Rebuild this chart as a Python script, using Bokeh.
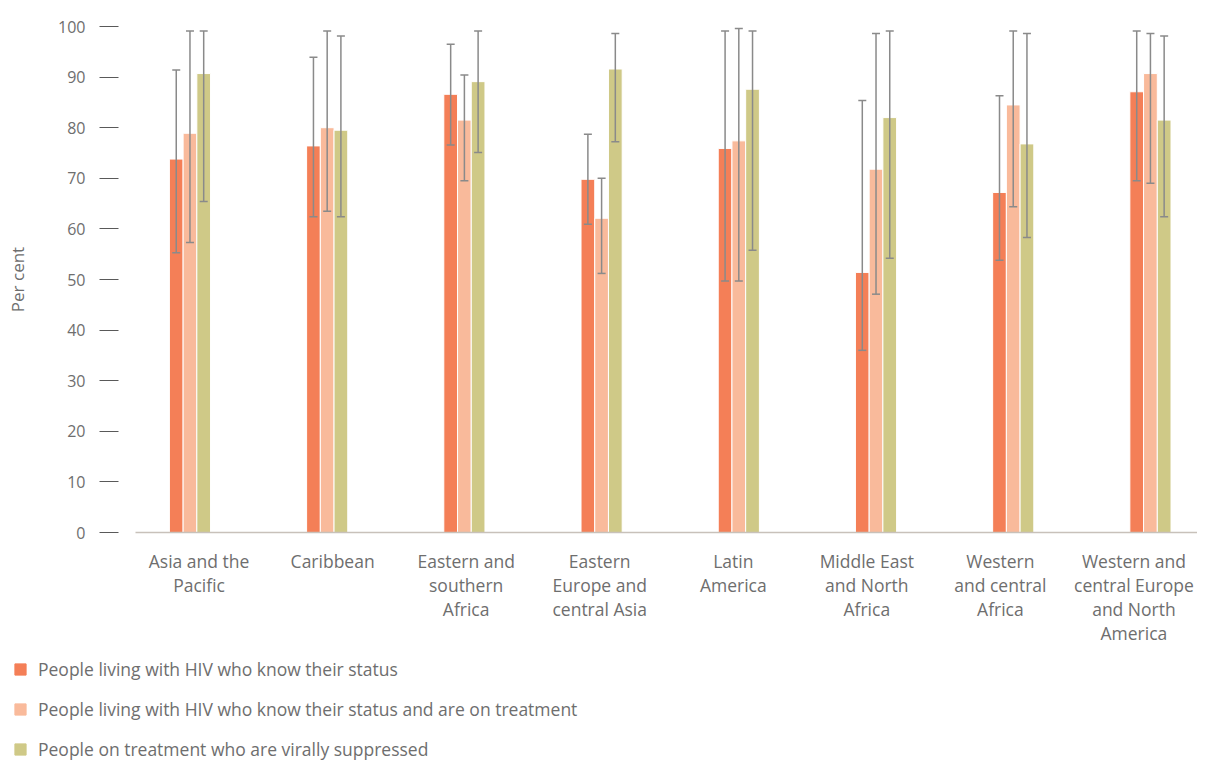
from bokeh.plotting import figure
from bokeh.layouts import column
from bokeh.models import (ColumnDataSource, FactorRange, CategoricalAxis, Whisker,
                          Legend, LegendItem, TeeHead, FixedTicker, Range1d)
from bokeh.transform import dodge
from bokeh.embed import file_html
from bokeh.resources import INLINE

regions = ["Asia and the\nPacific", "Caribbean", "Eastern and\nsouthern\nAfrica",
           "Eastern\nEurope and\ncentral Asia", "Latin\nAmerica",
           "Middle East\nand North\nAfrica", "Western\nand central\nAfrica",
           "Western and\ncentral Europe\nand North\nAmerica"]

series_names = ["People living with HIV who know their status",
                "People living with HIV who know their status and are on treatment",
                "People on treatment who are virally suppressed"]

know_status = [73.8, 76.4, 86.6, 69.8, 75.9, 51.4, 67.2, 87.1]
know_status_low = [55.3, 62.4, 76.6, 60.9, 49.7, 36.0, 53.8, 69.5]
know_status_high = [91.4, 93.9, 96.5, 78.7, 99.1, 85.4, 86.3, 99.1]

on_treatment = [78.9, 80.0, 81.5, 62.1, 77.4, 71.8, 84.5, 90.7]
on_treatment_low = [57.3, 63.5, 69.5, 51.2, 49.7, 47.1, 64.4, 69.0]
on_treatment_high = [99.1, 99.1, 90.4, 70.0, 99.6, 98.6, 99.1, 98.6]

suppressed = [90.7, 79.5, 89.1, 91.6, 87.6, 82.0, 76.8, 81.5]
suppressed_low = [65.4, 62.4, 75.1, 77.2, 55.8, 54.2, 58.3, 62.4]
suppressed_high = [99.1, 98.1, 99.1, 98.6, 99.1, 99.1, 98.6, 98.1]

y_ticks = [0, 10, 20, 30, 40, 50, 60, 70, 80, 90, 100]

colors = ["#F47F57", "#F9BA9B", "#CFC987"]
text_color = "#6E6E6E"
font = "Open Sans"
keys = ["s1", "s2", "s3"]

src = ColumnDataSource(dict(
    region=regions,
    s1=know_status, s1_lo=know_status_low, s1_hi=know_status_high,
    s2=on_treatment, s2_lo=on_treatment_low, s2_hi=on_treatment_high,
    s3=suppressed, s3_lo=suppressed_low, s3_hi=suppressed_high,
))

# ---------------- main chart ----------------
p = figure(width=1197, height=650,
           x_range=FactorRange(factors=regions, range_padding=-0.0325),
           y_range=(0, 100), output_backend="svg", toolbar_location=None,
           x_axis_location=None,
           min_border_left=135, min_border_right=0, min_border_top=26,
           min_border_bottom=118)
p.frame_align = False
p.outline_line_color = None
p.xgrid.visible = False
p.ygrid.visible = False

offsets = [-0.073, 0.027, 0.127]
for i, key in enumerate(keys):
    p.vbar(x=dodge("region", offsets[i], range=p.x_range), top=key, width=0.1,
           source=src, fill_color=colors[i], line_color="white", line_width=1)

for i, key in enumerate(keys):
    w = Whisker(base=dodge("region", offsets[i], range=p.x_range),
                upper=key + "_hi", lower=key + "_lo", source=src,
                line_color="#8A8A8A", line_width=1.5, level="annotation",
                upper_head=TeeHead(size=8, line_color="#8A8A8A", line_width=1.5),
                lower_head=TeeHead(size=8, line_color="#8A8A8A", line_width=1.5))
    p.add_layout(w)

# category label axis
p.extra_x_ranges = {"labels": FactorRange(factors=regions, range_padding=-0.006)}
xax = CategoricalAxis(x_range_name="labels")
xax.axis_line_color = "#C8C1BA"
xax.axis_line_width = 1.5
xax.major_tick_line_color = None
xax.minor_tick_line_color = None
xax.major_label_standoff = 10
xax.major_label_text_font = font
xax.major_label_text_font_size = "17.5px"
xax.major_label_text_color = text_color
xax.major_label_text_line_height = 1.0
xax.major_label_orientation = "horizontal"
p.add_layout(xax, "below")

yax = p.yaxis[0]
yax.ticker = FixedTicker(ticks=y_ticks)
yax.axis_line_color = None
yax.major_tick_in = -17
yax.major_tick_out = 36
yax.major_tick_line_color = "#595959"
yax.major_tick_line_width = 1
yax.minor_tick_line_color = None
yax.major_label_standoff = 14
yax.major_label_text_font = font
yax.major_label_text_font_size = "16px"
yax.major_label_text_color = text_color
yax.axis_label = "Per cent"
yax.axis_label_text_font = font
yax.axis_label_text_font_size = "17px"
yax.axis_label_text_font_style = "normal"
yax.axis_label_text_color = text_color
yax.axis_label_standoff = 26

# ---------------- legend strip ----------------
lg = figure(width=1197, height=112, x_range=FactorRange(factors=regions),
            y_range=Range1d(0, 1), output_backend="svg", toolbar_location=None,
            x_axis_location=None, y_axis_location=None,
            min_border_left=0, min_border_right=0, min_border_top=0, min_border_bottom=0)
lg.frame_align = False
lg.outline_line_color = None
lg.xgrid.visible = False
lg.ygrid.visible = False

legend_renderers = []
for i, key in enumerate(keys):
    r = lg.vbar(x="region", top=key, width=0.1, source=src,
                fill_color=colors[i], line_color=colors[i])
    r.visible = False
    legend_renderers.append(r)

legend = Legend(items=[LegendItem(label=series_names[i], renderers=[legend_renderers[i]])
                       for i in range(3)],
                location=(13, 1), orientation="vertical", padding=0, margin=0,
                spacing=16, glyph_width=14, glyph_height=14, label_standoff=11,
                label_text_font=font, label_text_font_size="17.5px",
                label_text_color=text_color, border_line_color=None,
                background_fill_alpha=0, inactive_fill_alpha=0)
lg.add_layout(legend, "center")

layout = column(p, lg, spacing=0)
open("out.html", "w").write(file_html(layout, INLINE))
